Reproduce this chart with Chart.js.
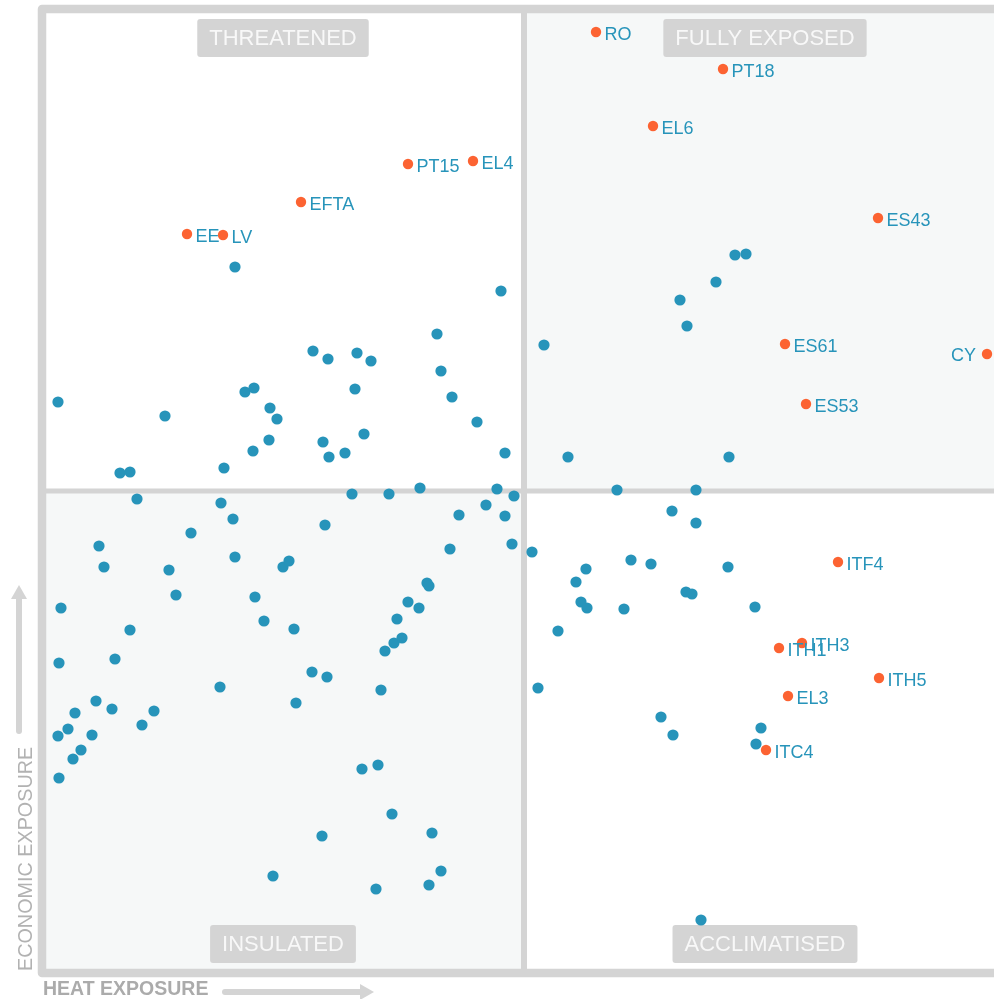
<!DOCTYPE html>
<html>
<head>
<meta charset="utf-8">
<script src="https://cdn.jsdelivr.net/npm/chart.js@4.4.1/dist/chart.umd.min.js"></script>
<style>
  html, body { margin: 0; padding: 0; background: #fff; overflow: hidden; }
  #wrap { width: 1010px; height: 999px; }
</style>
</head>
<body>
<div id="wrap"><canvas id="exposureChart" width="1010" height="999"></canvas></div>
<script>
// regions called out on the chart
const regionNames = ["RO", "PT18", "EL6", "EL4", "PT15", "EFTA", "EE", "LV", "ES43", "ES61", "CY", "ES53",
  "ITF4", "ITH3", "ITH1", "ITH5", "EL3", "ITC4"];
const regionHeat = [7.2, 19.9, 12.9, -5.1, -11.6, -22.3, -33.7, -30.1, 35.4, 26.1, 46.3, 28.2,
  31.4, 27.8, 25.5, 35.5, 26.4, 24.2];
const regionEcon = [45.9, 42.2, 36.5, 33.0, 32.7, 28.9, 25.7, 25.6, 27.3, 14.7, 13.7, 8.7,
  -7.1, -15.2, -15.7, -18.7, -20.5, -25.9];

// all other regions
const otherHeat = [-28.9, -2.3, -8.7, -21.1, -19.6, -16.7, -15.3, -8.3, -16.9, -7.2, -27.9, -27.0, -46.6, -35.9,
  -25.4, -24.7, -4.7, -25.5, -27.1, -20.1, -19.5, -17.9, -16.0, -30.0, -40.4, -39.4, -10.4, -1.9, -2.7,
  2.0, 21.1, 22.2, 19.2, 15.6, 16.3, 4.4, 20.5, 9.3, 17.2,
  -17.2, -13.5, -38.7, -30.3, -29.1, -1.0, -3.8, -6.5, -1.9, -19.9, -33.3, -42.5, -42.0, -28.9, -35.5, -34.8,
  -24.1, -23.5, -7.4, -1.2, -9.7, -9.5, -11.6, -10.5, -12.7, -13.0, -12.2, -13.9, -46.3, -26.9, -26.0, -23.0,
  -39.4, -46.5, -40.9, -21.2, -19.7, -14.3, -30.4, -22.8, -42.8, -41.2, -37.0, -44.9, -45.6, -46.6, -43.2,
  -38.2, -44.3, -45.1, -46.5, -16.2, -14.6, -13.2, -9.2, -20.2, -25.1, -8.3, -9.5, -14.8,
  0.8, 14.8, 17.2, 6.2, 5.2, 10.7, 12.7, 20.4, 5.7, 6.3, 10.0, 16.2, 16.8, 23.1, 3.4, 1.4, 13.7, 14.9, 23.7,
  23.2, 17.7];
const otherEcon = [22.4, 20.0, 15.7, 14.0, 13.2, 13.8, 13.0, 12.0, 10.2, 9.4, 9.9, 10.3, 8.9, 7.5,
  8.3, 7.2, 6.9, 5.1, 4.0, 4.9, 3.4, 3.8, 5.7, 2.3, 1.8, 1.9, 0.3, 3.8, 0.2,
  14.6, 23.6, 23.7, 20.9, 19.1, 16.5, 3.4, 3.4, 0.1, 0.1,
  -0.3, -0.3, -0.8, -1.2, -2.8, -0.5, -1.4, -2.4, -2.5, -3.4, -4.2, -5.5, -7.6, -6.6, -7.9, -10.4,
  -7.6, -7.0, -5.8, -5.3, -9.2, -9.5, -11.1, -11.7, -12.8, -15.2, -14.7, -16.0, -11.7, -10.6, -13.0, -13.8,
  -13.9, -17.2, -16.8, -18.1, -18.6, -19.9, -19.6, -21.2, -21.0, -21.8, -22.0, -22.2, -23.8, -24.5, -24.4,
  -23.4, -25.9, -26.8, -28.7, -27.8, -27.4, -32.3, -34.2, -34.5, -38.5, -38.0, -39.4, -39.8,
  -6.1, -2.0, -3.2, -7.8, -9.1, -6.9, -7.3, -7.6, -11.1, -11.7, -11.8, -10.1, -10.3, -11.6, -14.0, -19.7, -22.6, -24.4, -23.7,
  -25.3, -42.9];

const quadrantNames = ["THREATENED", "FULLY EXPOSED", "INSULATED", "ACCLIMATISED"];
const xTitle = "HEAT EXPOSURE";
const yTitle = "ECONOMIC EXPOSURE";
const leftLabels = ["CY"];

const BLUE = "#2794ba";
const ORANGE = "#fc6332";
const FRAME = "#d4d4d4";
const FONT = "'Liberation Sans', Arial, sans-serif";

function roundRect(ctx, x, y, w, h, r) {
  ctx.beginPath();
  ctx.moveTo(x + r, y);
  ctx.arcTo(x + w, y, x + w, y + h, r);
  ctx.arcTo(x + w, y + h, x, y + h, r);
  ctx.arcTo(x, y + h, x, y, r);
  ctx.arcTo(x, y, x + w, y, r);
  ctx.closePath();
}

const quadrantPlugin = {
  id: "quadrants",
  beforeDatasetsDraw(chart) {
    const { ctx, chartArea: a, scales } = chart;
    const cx = scales.x.getPixelForValue(0);
    const cy = scales.y.getPixelForValue(0);
    ctx.save();

    // shaded quadrants
    ctx.fillStyle = "#f6f8f8";
    ctx.fillRect(cx, a.top, a.right - cx, cy - a.top);
    ctx.fillRect(a.left, cy, cx - a.left, a.bottom - cy);

    // cross lines
    ctx.strokeStyle = FRAME;
    ctx.lineWidth = 6;
    ctx.beginPath();
    ctx.moveTo(cx, a.top);
    ctx.lineTo(cx, a.bottom);
    ctx.stroke();
    ctx.lineWidth = 5;
    ctx.beginPath();
    ctx.moveTo(a.left, cy);
    ctx.lineTo(a.right, cy);
    ctx.stroke();

    // frame
    ctx.lineWidth = 8.5;
    ctx.lineJoin = "round";
    ctx.strokeRect(a.left, a.top, a.width, a.height);

    // quadrant name boxes
    ctx.font = "22px " + FONT;
    ctx.textAlign = "center";
    ctx.textBaseline = "middle";
    const centers = [
      [(a.left + cx) / 2, a.top + 29],
      [(cx + a.right) / 2, a.top + 29],
      [(a.left + cx) / 2, a.bottom - 29],
      [(cx + a.right) / 2, a.bottom - 29]
    ];
    quadrantNames.forEach((name, i) => {
      const w = ctx.measureText(name).width + 24;
      const [mx, my] = centers[i];
      ctx.fillStyle = FRAME;
      roundRect(ctx, mx - w / 2, my - 19, w, 38, 3);
      ctx.fill();
      ctx.fillStyle = "#f8f8f8";
      ctx.fillText(name, mx, my + 1);
    });

    // axis titles
    ctx.textAlign = "left";
    ctx.textBaseline = "alphabetic";
    ctx.fillStyle = "#ababab";
    ctx.font = "bold 19.5px " + FONT;
    ctx.fillText(xTitle, a.left + 1, 995);

    ctx.save();
    ctx.translate(32, a.bottom - 2);
    ctx.rotate(-Math.PI / 2);
    ctx.fillStyle = "#b2b2b2";
    ctx.font = "19.8px " + FONT;
    ctx.fillText(yTitle, 0, 0);
    ctx.restore();

    // arrows
    ctx.strokeStyle = FRAME;
    ctx.fillStyle = FRAME;
    ctx.lineWidth = 6;
    ctx.lineCap = "round";
    ctx.beginPath();
    ctx.moveTo(225, 992);
    ctx.lineTo(362, 992);
    ctx.stroke();
    ctx.beginPath();
    ctx.moveTo(374, 992);
    ctx.lineTo(360, 984);
    ctx.lineTo(360, 1000);
    ctx.closePath();
    ctx.fill();

    ctx.beginPath();
    ctx.moveTo(19, 731);
    ctx.lineTo(19, 598);
    ctx.stroke();
    ctx.beginPath();
    ctx.moveTo(19, 585);
    ctx.lineTo(11, 599);
    ctx.lineTo(27, 599);
    ctx.closePath();
    ctx.fill();

    ctx.restore();
  },
  afterDatasetsDraw(chart) {
    const { ctx } = chart;
    const meta = chart.getDatasetMeta(1);
    ctx.save();
    ctx.font = "18px " + FONT;
    ctx.fillStyle = BLUE;
    ctx.textBaseline = "alphabetic";
    meta.data.forEach((pt, i) => {
      const name = regionNames[i];
      if (leftLabels.includes(name)) {
        ctx.textAlign = "right";
        ctx.fillText(name, pt.x - 11, pt.y + 7);
      } else {
        ctx.textAlign = "left";
        ctx.fillText(name, pt.x + 8.5, pt.y + 7.5);
      }
    });
    ctx.restore();
  }
};

const ctx = document.getElementById("exposureChart");
new Chart(ctx, {
  type: "scatter",
  data: {
    datasets: [
      {
        label: "Regions",
        data: otherHeat.map((v, i) => ({ x: v, y: otherEcon[i] })),
        backgroundColor: BLUE,
        borderWidth: 0,
        pointRadius: 5.6,
        clip: false
      },
      {
        label: "Highlighted",
        data: regionHeat.map((v, i) => ({ x: v, y: regionEcon[i] })),
        backgroundColor: ORANGE,
        borderWidth: 0,
        pointRadius: 5.2,
        clip: false
      }
    ]
  },
  options: {
    responsive: false,
    animation: false,
    events: [],
    layout: { autoPadding: false, padding: { left: 42, right: 4, top: 9, bottom: 26 } },
    scales: {
      x: { type: "linear", min: -48.2, max: 48.2, display: false },
      y: { type: "linear", min: -48.2, max: 48.2, display: false }
    },
    plugins: {
      legend: { display: false },
      tooltip: { enabled: false }
    }
  },
  plugins: [quadrantPlugin]
});
</script>
</body>
</html>
